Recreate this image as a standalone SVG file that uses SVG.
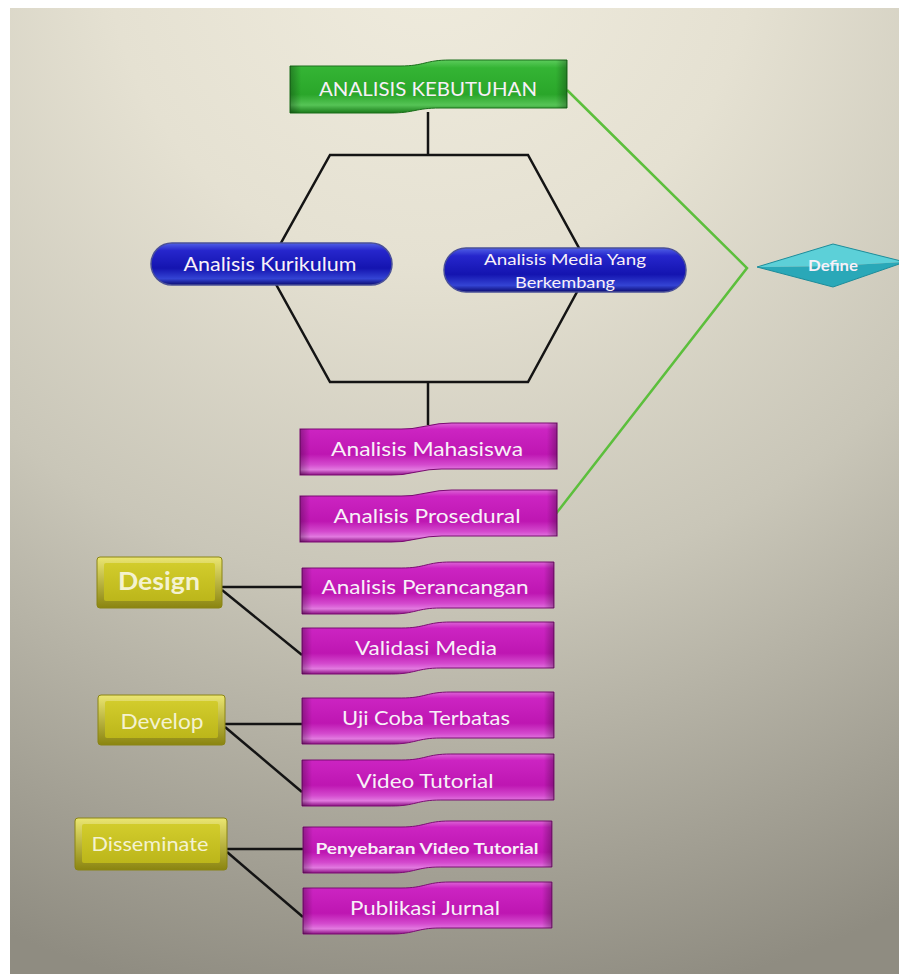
<svg xmlns="http://www.w3.org/2000/svg" width="899" height="974" viewBox="0 0 899 974">
<defs>
  <radialGradient id="bg" gradientUnits="userSpaceOnUse" cx="430" cy="-60" r="1080">
    <stop offset="0" stop-color="#f0ecde"/>
    <stop offset="0.3" stop-color="#e5e1d2"/>
    <stop offset="0.6" stop-color="#c9c6b8"/>
    <stop offset="1" stop-color="#8f8c81"/>
  </radialGradient>
  <linearGradient id="mag" x1="0" y1="0" x2="0" y2="1">
    <stop offset="0" stop-color="#dc64d6"/>
    <stop offset="0.12" stop-color="#cc24c2"/>
    <stop offset="0.6" stop-color="#be16b2"/>
    <stop offset="0.8" stop-color="#d44ace"/>
    <stop offset="0.9" stop-color="#e27ae0"/>
    <stop offset="1" stop-color="#8a1082"/>
  </linearGradient>
  <linearGradient id="side" x1="0" y1="0" x2="1" y2="0">
    <stop offset="0" stop-color="#000" stop-opacity="0.28"/>
    <stop offset="0.04" stop-color="#000" stop-opacity="0"/>
    <stop offset="0.96" stop-color="#000" stop-opacity="0"/>
    <stop offset="1" stop-color="#000" stop-opacity="0.28"/>
  </linearGradient>
  <linearGradient id="grn" x1="0" y1="0" x2="0" y2="1">
    <stop offset="0" stop-color="#5ccc5c"/>
    <stop offset="0.15" stop-color="#34b434"/>
    <stop offset="0.65" stop-color="#2aa62a"/>
    <stop offset="0.85" stop-color="#56c456"/>
    <stop offset="1" stop-color="#1a7a1a"/>
  </linearGradient>
  <linearGradient id="blu" x1="0" y1="0" x2="0" y2="1">
    <stop offset="0" stop-color="#5060e6"/>
    <stop offset="0.18" stop-color="#2626cc"/>
    <stop offset="0.6" stop-color="#1414b0"/>
    <stop offset="0.85" stop-color="#3444d4"/>
    <stop offset="1" stop-color="#0a0a70"/>
  </linearGradient>
  <linearGradient id="yelO" x1="0" y1="0" x2="0" y2="1">
    <stop offset="0" stop-color="#ebe672"/>
    <stop offset="1" stop-color="#8a8410"/>
  </linearGradient>
  <linearGradient id="yelI" x1="0" y1="0" x2="0" y2="1">
    <stop offset="0" stop-color="#d2cc2c"/>
    <stop offset="1" stop-color="#bcb61a"/>
  </linearGradient>
  <path id="banner" d="M0,6 H100 C125,6 125,0 150,0 H254 V46 H140 C115,46 115,52 90,52 H0 Z"/>
</defs>
<style>
  .conn{stroke:#141414;stroke-width:2.5;fill:none}
  .gconn{stroke:#5cbf3c;stroke-width:2.5;fill:none}
  .lbl{font-family:Lato,"Liberation Sans",sans-serif;fill:#f8f0f8;text-anchor:middle}
  .mbox{fill:url(#mag);stroke:#7a0c72;stroke-width:1}
  .shade{fill:url(#side)}
  .yo{fill:url(#yelO);stroke:#8a8414;stroke-width:1}
  .yi{fill:url(#yelI)}
  .ylbl{font-family:Lato,"Liberation Sans",sans-serif;fill:#f4f2d0;text-anchor:middle}
</style>

<rect x="0" y="0" width="899" height="974" fill="#ffffff"/>
<rect x="10" y="8" width="889" height="966" fill="url(#bg)"/>

<g id="connectors">
  <line class="conn" x1="428" y1="112" x2="428" y2="155"/>
  <polygon class="conn" points="330,155 528,155 590,268 528,382 330,382 267,268"/>
  <line class="conn" x1="428" y1="382" x2="428" y2="425"/>
  <line class="conn" x1="222" y1="587" x2="302" y2="587"/>
  <line class="conn" x1="222" y1="590" x2="302" y2="655"/>
  <line class="conn" x1="225" y1="724" x2="302" y2="724"/>
  <line class="conn" x1="225" y1="727" x2="302" y2="792"/>
  <line class="conn" x1="227" y1="849" x2="303" y2="849"/>
  <line class="conn" x1="227" y1="852" x2="303" y2="917"/>
  <polyline class="gconn" points="567,90 747,268 555,515"/>
</g>

<g id="analisis-kebutuhan">
  <path d="M290,66 H400 C425,66 425,60 450,60 H567 V108 H440 C415,108 415,113 390,113 H290 Z" fill="url(#grn)" stroke="#1a6e1a" stroke-width="1"/>
  <path d="M290,66 H400 C425,66 425,60 450,60 H567 V108 H440 C415,108 415,113 390,113 H290 Z" class="shade"/>
  <text class="lbl" x="428" y="96" font-size="20" textLength="218" lengthAdjust="spacingAndGlyphs" fill="#eef8ee">ANALISIS KEBUTUHAN</text>
</g>

<g id="analisis-kurikulum">
  <rect x="151" y="243" width="241" height="42" rx="21" fill="url(#blu)" stroke="#4a5098" stroke-width="1.5"/>
  <text class="lbl" x="270" y="271" font-size="20" textLength="173" lengthAdjust="spacingAndGlyphs">Analisis Kurikulum</text>
</g>

<g id="analisis-media">
  <rect x="444" y="248" width="242" height="44" rx="22" fill="url(#blu)" stroke="#4a5098" stroke-width="1.5"/>
  <text class="lbl" x="565" y="265" font-size="16" textLength="162" lengthAdjust="spacingAndGlyphs" fill="#d8dcf4">Analisis Media Yang</text>
  <text class="lbl" x="565" y="288" font-size="16" textLength="100" lengthAdjust="spacingAndGlyphs" fill="#d8dcf4">Berkembang</text>
</g>

<g id="define">
  <polygon points="757,267 833,244 905,262 833,266" fill="#5cd0d8"/>
  <polygon points="757,267 833,266 905,262 833,287" fill="#2aa8b8"/>
  <polygon points="757,267 833,244 905,262 833,287" fill="none" stroke="#1c8c9a" stroke-width="1"/>
  <text class="lbl" x="833" y="271" font-size="15" font-weight="bold" textLength="50" lengthAdjust="spacingAndGlyphs" fill="#eafcfc">Define</text>
</g>

<g id="analisis-mahasiswa">
  <use href="#banner" transform="translate(300,423) scale(1.012,1)" class="mbox"/>
  <use href="#banner" transform="translate(300,423) scale(1.012,1)" class="shade"/>
  <text class="lbl" x="427" y="456" font-size="20" textLength="192" lengthAdjust="spacingAndGlyphs">Analisis Mahasiswa</text>
</g>

<g id="analisis-prosedural">
  <use href="#banner" transform="translate(300,490) scale(1.012,1)" class="mbox"/>
  <use href="#banner" transform="translate(300,490) scale(1.012,1)" class="shade"/>
  <text class="lbl" x="427" y="523" font-size="20" textLength="187" lengthAdjust="spacingAndGlyphs">Analisis Prosedural</text>
</g>

<g id="analisis-perancangan">
  <use href="#banner" transform="translate(302,562) scale(0.992,1)" class="mbox"/>
  <use href="#banner" transform="translate(302,562) scale(0.992,1)" class="shade"/>
  <text class="lbl" x="425" y="594" font-size="20" textLength="207" lengthAdjust="spacingAndGlyphs">Analisis Perancangan</text>
</g>

<g id="validasi-media">
  <use href="#banner" transform="translate(302,622) scale(0.992,1)" class="mbox"/>
  <use href="#banner" transform="translate(302,622) scale(0.992,1)" class="shade"/>
  <text class="lbl" x="426" y="655" font-size="20" textLength="142" lengthAdjust="spacingAndGlyphs">Validasi Media</text>
</g>

<g id="uji-coba-terbatas">
  <use href="#banner" transform="translate(302,692) scale(0.992,1)" class="mbox"/>
  <use href="#banner" transform="translate(302,692) scale(0.992,1)" class="shade"/>
  <text class="lbl" x="426" y="725" font-size="20" textLength="168" lengthAdjust="spacingAndGlyphs">Uji Coba Terbatas</text>
</g>

<g id="video-tutorial">
  <use href="#banner" transform="translate(302,754) scale(0.992,1)" class="mbox"/>
  <use href="#banner" transform="translate(302,754) scale(0.992,1)" class="shade"/>
  <text class="lbl" x="425" y="788" font-size="20" textLength="137" lengthAdjust="spacingAndGlyphs">Video Tutorial</text>
</g>

<g id="penyebaran-video-tutorial">
  <use href="#banner" transform="translate(303,821) scale(0.98,1)" class="mbox"/>
  <use href="#banner" transform="translate(303,821) scale(0.98,1)" class="shade"/>
  <text class="lbl" x="427" y="854" font-size="16" font-weight="bold" textLength="223" lengthAdjust="spacingAndGlyphs">Penyebaran Video Tutorial</text>
</g>

<g id="publikasi-jurnal">
  <use href="#banner" transform="translate(303,882) scale(0.98,1)" class="mbox"/>
  <use href="#banner" transform="translate(303,882) scale(0.98,1)" class="shade"/>
  <text class="lbl" x="425" y="915" font-size="20" textLength="150" lengthAdjust="spacingAndGlyphs">Publikasi Jurnal</text>
</g>

<g id="design">
  <rect class="yo" x="97" y="557" width="125" height="51" rx="3"/>
  <rect class="yi" x="104" y="563" width="111" height="38" rx="2"/>
  <text class="ylbl" x="159" y="590" font-size="24" font-weight="bold" textLength="82" lengthAdjust="spacingAndGlyphs">Design</text>
</g>

<g id="develop">
  <rect class="yo" x="98" y="695" width="127" height="50" rx="3"/>
  <rect class="yi" x="105" y="701" width="113" height="37" rx="2"/>
  <text class="ylbl" x="162" y="729" font-size="21" textLength="83" lengthAdjust="spacingAndGlyphs">Develop</text>
</g>

<g id="disseminate">
  <rect class="yo" x="75" y="818" width="152" height="52" rx="3"/>
  <rect class="yi" x="82" y="824" width="138" height="39" rx="2"/>
  <text class="ylbl" x="150" y="851" font-size="19" textLength="117" lengthAdjust="spacingAndGlyphs">Disseminate</text>
</g>
</svg>
